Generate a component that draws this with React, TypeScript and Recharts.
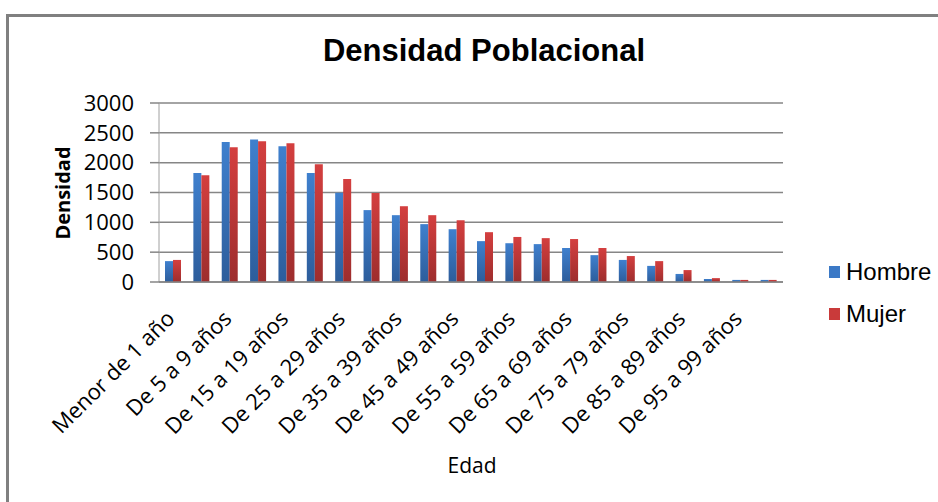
import { ReactElement } from 'react'
import {
   Bar,
   BarChart,
   CartesianGrid,
   Legend,
   XAxis,
   YAxis
} from 'recharts'

const categories = [
   'Menor de 1 año', 'De 1 a 4 años', 'De 5 a 9 años', 'De 10 a 14 años',
   'De 15 a 19 años', 'De 20 a 24 años', 'De 25 a 29 años', 'De 30 a 34 años',
   'De 35 a 39 años', 'De 40 a 44 años', 'De 45 a 49 años', 'De 50 a 54 años',
   'De 55 a 59 años', 'De 60 a 64 años', 'De 65 a 69 años', 'De 70 a 74 años',
   'De 75 a 79 años', 'De 80 a 84 años', 'De 85 a 89 años', 'De 90 a 94 años',
   'De 95 a 99 años', '100 años y más'
]
const hombre = [350, 1825, 2345, 2390, 2275, 1825, 1495, 1205, 1120, 970, 885, 685, 650, 635, 570, 450, 370, 270, 135, 50, 35, 35]
const mujer = [370, 1790, 2260, 2360, 2325, 1975, 1725, 1490, 1270, 1120, 1035, 835, 755, 735, 720, 570, 435, 350, 200, 65, 35, 35]
const yTicks = [0, 500, 1000, 1500, 2000, 2500, 3000]

const data = categories.map((c, i) => ({ edad: c, Hombre: hombre[i], Mujer: mujer[i] }))

const gridColor = '#868686'
const tickFont = '"Open Sans", sans-serif'

const XTick = (props: any): ReactElement => {
   const { x, y, payload } = props
   const ax = x + 3
   const ay = y + 30
   return (
      <text
         x={ ax }
         y={ ay }
         transform={ `rotate(-45, ${ax}, ${ay})` }
         textAnchor='end'
         fontSize={ 22 }
         fontFamily={ tickFont }
         fill='#000'
      >
         { payload.value }
      </text>
   )
}

const LegendBox = (): ReactElement => (
   <div style={{ fontFamily: '"Liberation Sans", Arial, sans-serif', fontSize: 24, color: '#000' }}>
      { [['Hombre', '#3b79c6'], ['Mujer', '#c93a3a']].map(([name, color]) => (
         <div key={ name } style={{ display: 'flex', alignItems: 'center', height: 42 }}>
            <span style={{ width: 11, height: 12, background: color, marginRight: 6, display: 'inline-block' }} />
            <span>{ name }</span>
         </div>
      )) }
   </div>
)

export default function App (): ReactElement {
   return (
      <div style={{ position: 'absolute', left: 0, top: 0, width: 938, height: 502, background: '#fff', overflow: 'hidden' }}>
         <div style={{ position: 'absolute', left: 6, top: 14, width: 940, height: 500, borderLeft: '3px solid #808080', borderTop: '3px solid #808080' }} />

         <div style={{ position: 'absolute', left: 0, width: 968, top: 33, textAlign: 'center', fontFamily: '"Liberation Sans", Arial, sans-serif', fontWeight: 'bold', fontSize: 31, color: '#000' }}>
            Densidad Poblacional
         </div>

         <div style={{ position: 'absolute', left: 62, top: 193, transform: 'translate(-50%, -50%) rotate(-90deg)', fontFamily: tickFont, fontWeight: 'bold', fontSize: 20, color: '#000', whiteSpace: 'nowrap' }}>
            Densidad
         </div>

         <div style={{ position: 'absolute', left: 472, top: 465, transform: 'translate(-50%, -50%)', fontFamily: tickFont, fontSize: 21, color: '#000' }}>
            Edad
         </div>

         <div style={{ position: 'absolute', left: 0, top: 0 }}>
            <BarChart
               width={ 938 }
               height={ 502 }
               data={ data }
               margin={{ top: 103, right: 155, bottom: 70, left: 0 }}
               barGap={ 0 }
               barCategoryGap='22%'
            >
               <defs>
                  <linearGradient id='gradHombre' x1='0' y1='0' x2='0' y2='1'>
                     <stop offset='0%' stopColor='#3f80ce' />
                     <stop offset='100%' stopColor='#2d5d9b' />
                  </linearGradient>
                  <linearGradient id='gradMujer' x1='0' y1='0' x2='0' y2='1'>
                     <stop offset='0%' stopColor='#d43f3f' />
                     <stop offset='100%' stopColor='#9d2d2d' />
                  </linearGradient>
               </defs>

               <CartesianGrid vertical={ false } stroke={ gridColor } strokeWidth={ 1.5 } />

               <YAxis
                  width={ 159 }
                  domain={ [0, 3000] }
                  ticks={ yTicks }
                  interval={ 0 }
                  tickSize={ 9 }
                  tickMargin={ 16 }
                  stroke={ gridColor }
                  axisLine={{ stroke: '#a0a0a0', strokeWidth: 1 }}
                  tickLine={{ stroke: gridColor, strokeWidth: 1.5 }}
                  tick={{ fontSize: 22, fontFamily: tickFont, fill: '#000' }}
               />

               <XAxis
                  dataKey='edad'
                  height={ 150 }
                  interval={ 1 }
                  tickLine={ false }
                  axisLine={{ stroke: gridColor, strokeWidth: 1.5 }}
                  tick={ <XTick /> }
               />

               <Legend
                  layout='vertical'
                  align='center'
                  verticalAlign='middle'
                  content={ <LegendBox /> }
                  wrapperStyle={{ position: 'absolute', left: 829, top: 251, width: 110 }}
               />

               <Bar dataKey='Hombre' fill='url(#gradHombre)' barSize={ 8 } isAnimationActive={ false } />
               <Bar dataKey='Mujer' fill='url(#gradMujer)' barSize={ 8 } isAnimationActive={ false } />
            </BarChart>
         </div>
      </div>
   )
}
